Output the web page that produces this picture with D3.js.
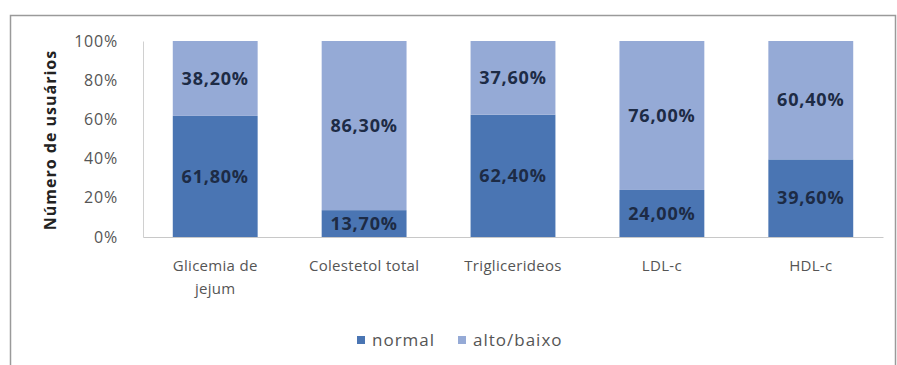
<!DOCTYPE html>
<html><head><meta charset="utf-8">
<script src="https://cdn.jsdelivr.net/npm/d3@7"></script>
<style>body{margin:0;background:#fff}svg{display:block}</style>
</head><body><svg id="c" width="897" height="365"></svg>
<script>
const categories = [["Glicemia de","jejum"],["Colestetol total"],["Triglicerideos"],["LDL-c"],["HDL-c"]];
const normal = [61.8, 13.7, 62.4, 24.0, 39.6];
const altoBaixo = [38.2, 86.3, 37.6, 76.0, 60.4];
const seriesNames = ["normal","alto/baixo"];
const yTicks = [0,20,40,60,80,100];
const colors = ["#4a75b3","#95aad6"];

const svg = d3.select("#c");
const font = "'Open Sans', sans-serif";
svg.append("rect").attr("x",10.5).attr("y",15.5).attr("width",885).attr("height",360).attr("fill","#fff").attr("stroke","#9a9a9a").attr("stroke-width",1.5);

const m = {l:143, r:883, t:41, b:237};
const keys = categories.map((d,i)=>i);
const x = d3.scaleBand().domain(keys).range([m.l,m.r]).paddingInner(0.43).paddingOuter(0.2);
const y = d3.scaleLinear().domain([0,100]).range([m.b,m.t]);

const fmt = v => v.toFixed(2).replace(".",",")+"%";

// y axis labels
const ya = svg.append("g").attr("transform",`translate(${m.l},0)`).call(d3.axisLeft(y).tickValues(yTicks).tickSize(0).tickPadding(25).tickFormat(d=>d+"%"));
ya.select(".domain").attr("stroke","#d0d0d0");
ya.selectAll("text").attr("font-family",font).attr("font-size",16).attr("fill","#555").attr("letter-spacing","0.8px");

// bars
const stackData = keys.map(i=>({i, normal:normal[i], alto:altoBaixo[i]}));
const stack = d3.stack().keys(["normal","alto"])(stackData);
stack.forEach((s,si)=>{
  const g = svg.append("g");
  g.selectAll("rect").data(s).join("rect")
    .attr("x",d=>x(d.data.i)).attr("width",x.bandwidth())
    .attr("y",d=>y(d[1])).attr("height",d=>y(d[0])-y(d[1]))
    .attr("fill",colors[si]);
  g.selectAll("text").data(s).join("text")
    .attr("x",d=>x(d.data.i)+x.bandwidth()/2).attr("y",d=>y((d[0]+d[1])/2))
    .attr("dy","0.35em").attr("text-anchor","middle")
    .attr("font-family",font).attr("font-weight","bold").attr("font-size",18).attr("letter-spacing","0.8px").attr("fill","#1d2b45")
    .text(d=>fmt(d[1]-d[0]));
});

// x axis
const xa = svg.append("g").attr("transform",`translate(0,${m.b})`).call(d3.axisBottom(x).tickSize(0).tickFormat(""));
xa.select(".domain").attr("stroke","#c8c8c8");
keys.forEach(i=>{
  const t = svg.append("text").attr("x",x(i)+x.bandwidth()/2).attr("y",271).attr("text-anchor","middle")
    .attr("font-family",font).attr("font-size",15).attr("letter-spacing","0.3px").attr("fill","#555");
  categories[i].forEach((line,j)=>t.append("tspan").attr("x",x(i)+x.bandwidth()/2).attr("dy",j?23:0).text(line));
});

// y title
svg.append("text").attr("transform","translate(50,140) rotate(-90)").attr("dy","0.35em").attr("text-anchor","middle")
  .attr("font-family",font).attr("font-weight","bold").attr("font-size",16).attr("letter-spacing","1px").attr("fill","#222").text("Número de usuários");

// legend
const lx = [357,458];
seriesNames.forEach((n,i)=>{
  svg.append("rect").attr("x",lx[i]).attr("y",336).attr("width",8).attr("height",8).attr("fill",colors[i]);
  svg.append("text").attr("x",lx[i]+15).attr("y",340).attr("dy","0.35em").attr("font-family",font).attr("font-size",17).attr("letter-spacing","1px").attr("fill","#555").text(n);
});
</script></body></html>
